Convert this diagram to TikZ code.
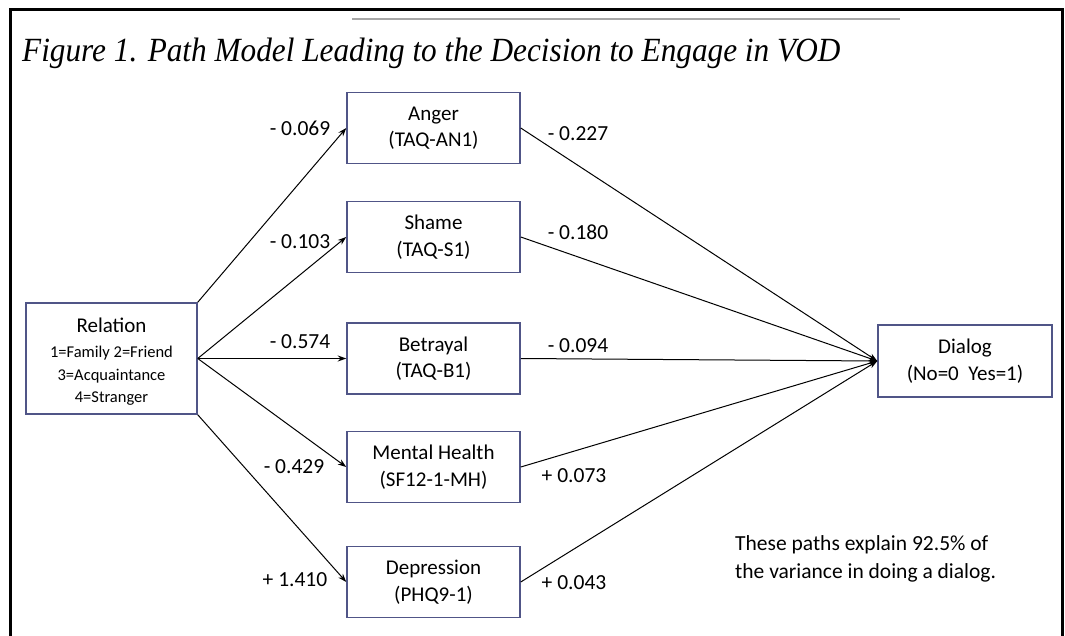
\documentclass[tikz,border=0pt]{standalone}
\usepackage{fontspec}
\setmainfont{Carlito}
\newfontfamily\titlefont{Liberation Serif}
\usetikzlibrary{arrows.meta}
\definecolor{boxblue}{RGB}{80,85,135}
\newcommand{\smallrel}{\fontsize{16.5}{22.5}\selectfont}
\tikzset{
  vbox/.style={draw=boxblue, line width=1.5pt, fill=white, inner sep=0pt, align=center,
    minimum width=173pt, minimum height=71pt, font=\fontsize{21}{26.5}\selectfont},
  arr/.style={line width=1pt, -{Stealth[length=8.5pt,width=6pt]}},
  coef/.style={font=\fontsize{21.5}{26}\selectfont, inner sep=0pt}
}
\begin{document}
\begin{tikzpicture}[x=1pt,y=-1pt]
\useasboundingbox (0,0) rectangle (1065,636);
% frame
\draw[line width=3pt] (10,636) -- (10,10) -- (1062,10) -- (1062,636);
\draw[gray!70, line width=1.5pt] (352,19) -- (900,19);
% title
\node[anchor=base west, inner sep=0pt] (title) at (22,62)
  {\resizebox{818pt}{23.5pt}{\titlefont\itshape Figure 1. Path Model Leading to the Decision to Engage in VOD}};
% boxes
\node[vbox, minimum width=171pt, minimum height=111pt, text depth=0pt] (rel) at (111.5,358.5) {};
\node[inner sep=0pt, align=center, font=\fontsize{21}{25}\selectfont, anchor=base] (reltxt) at (111.5,332)
  {Relation};
\node[inner sep=0pt, align=center, font=\smallrel, anchor=north] (relsub) at (111.5,346)
  {1=Family 2=Friend\\3=Acquaintance\\4=Stranger};
\node[vbox] (ang) at (433.5,128) {Anger\\(TAQ-AN1)};
\node[vbox] (sha) at (433.5,237) {Shame\\(TAQ-S1)};
\node[vbox] (bet) at (433.5,358.5) {Betrayal\\(TAQ-B1)};
\node[vbox] (mh) at (433.5,467) {Mental Health\\(SF12-1-MH)};
\node[vbox] (dep) at (433.5,582) {Depression\\(PHQ9-1)};
\node[vbox, minimum width=174pt, minimum height=72pt] (dia) at (965,361) {Dialog\\(No=0\ \ Yes=1)};
% paths from Relation
\draw[arr] (rel.north east) -- (ang.west);
\draw[arr] (rel.east) -- (sha.west);
\draw[arr] (rel.east) -- (bet.west);
\draw[arr] (rel.east) -- (mh.west);
\draw[arr] (rel.south east) -- (dep.west);
% paths to Dialog
\draw[arr] (ang.east) -- (dia.west);
\draw[arr] (sha.east) -- (dia.west);
\draw[arr] (bet.east) -- (dia.west);
\draw[arr] (mh.east) -- (dia.west);
\draw[arr] (dep.east) -- (dia.west);
% coefficients
\node[coef] (c1) at (300,128) {- 0.069};
\node[coef] (c2) at (300,242) {- 0.103};
\node[coef] (c3) at (300,342) {- 0.574};
\node[coef] (c4) at (294,467) {- 0.429};
\node[coef] (c5) at (295,580) {+ 1.410};
\node[coef] (c6) at (578,134) {- 0.227};
\node[coef] (c7) at (578,232) {- 0.180};
\node[coef] (c8) at (578,346) {- 0.094};
\node[coef] (c9) at (574,476) {+ 0.073};
\node[coef] (c10) at (574,583) {+ 0.043};
% note
\node[anchor=base west, inner sep=0pt, align=left, font=\fontsize{21.5}{28}\selectfont] (note) at (735,578)
  {These paths explain 92.5\% of\\the variance in doing a dialog.};
\end{tikzpicture}
\end{document}
